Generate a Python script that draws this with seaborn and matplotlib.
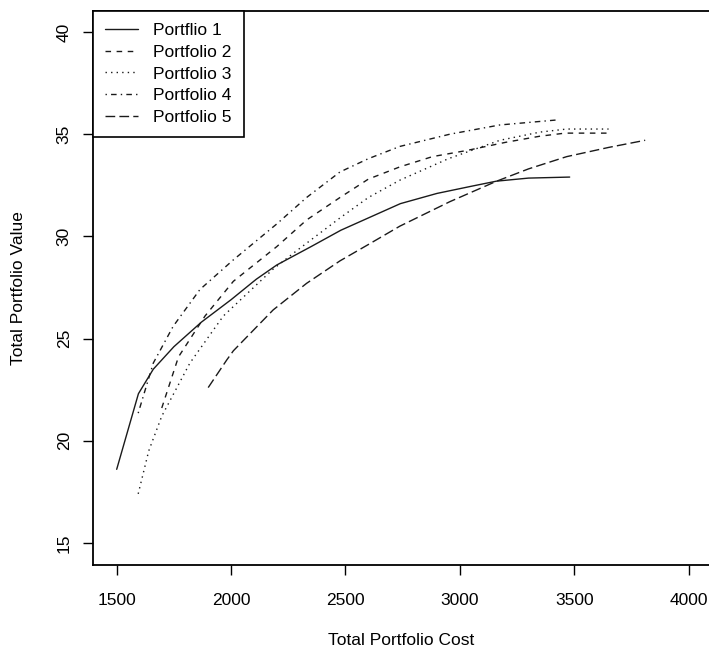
import numpy as np
import pandas as pd
import matplotlib
matplotlib.use("Agg")
import matplotlib.pyplot as plt
import seaborn as sns

# valores (custo total, valor total)
p1_cost = [1500, 1595, 1660, 1750, 1870, 2000, 2110, 2200, 2350, 2480, 2600, 2740, 2900, 3050, 3160, 3300, 3480]
p1_value = [18.6, 22.3, 23.5, 24.6, 25.8, 26.9, 27.9, 28.6, 29.5, 30.3, 30.9, 31.6, 32.1, 32.45, 32.7, 32.85, 32.9]

p2_cost = [1697, 1770, 1886, 2010, 2200, 2330, 2476, 2600, 2738, 2880, 3030, 3200, 3350, 3460, 3650]
p2_value = [21.6, 24.1, 26.1, 27.8, 29.5, 30.8, 31.9, 32.8, 33.4, 33.9, 34.2, 34.6, 34.9, 35.05, 35.05]

p3_cost = [1594, 1640, 1697, 1820, 1966, 2184, 2287, 2476, 2600, 2738, 2950, 3175, 3350, 3467, 3650]
p3_value = [17.4, 19.5, 21.2, 23.8, 26.1, 28.4, 29.3, 30.9, 31.9, 32.75, 33.8, 34.7, 35.1, 35.25, 35.25]

p4_cost = [1594, 1660, 1747, 1864, 2010, 2199, 2330, 2476, 2600, 2738, 2957, 3175, 3430]
p4_value = [21.35, 23.8, 25.6, 27.4, 28.85, 30.6, 31.9, 33.15, 33.8, 34.4, 35.0, 35.45, 35.7]

p5_cost = [1900, 1981, 2010, 2184, 2330, 2476, 2600, 2738, 2957, 3161, 3300, 3467, 3650, 3810]
p5_value = [22.6, 23.95, 24.4, 26.4, 27.7, 28.8, 29.6, 30.5, 31.7, 32.7, 33.3, 33.9, 34.35, 34.7]

labels = ["Portflio 1", "Portfolio 2", "Portfolio 3", "Portfolio 4", "Portfolio 5"]
x_ticks = [1500, 2000, 2500, 3000, 3500, 4000]
y_ticks = [15, 20, 25, 30, 35, 40]

frames = []
for lab, xs, ys in zip(labels,
                       [p1_cost, p2_cost, p3_cost, p4_cost, p5_cost],
                       [p1_value, p2_value, p3_value, p4_value, p5_value]):
    frames.append(pd.DataFrame({"cost": xs, "value": ys, "portfolio": lab}))
df = pd.concat(frames, ignore_index=True)

sns.set_theme(style="white", rc={"text.color": "black", "axes.labelcolor": "black",
                                 "xtick.color": "black", "ytick.color": "black"})
plt.rcParams['font.family'] = ['Liberation Sans', 'DejaVu Sans']
plt.rcParams['font.size'] = 12.5

fig = plt.figure(figsize=(7.09, 6.53), dpi=100)
ax = fig.add_axes([0.1307, 0.1348, 0.8693, 0.8488])

estilos = {
    "Portflio 1": "",
    "Portfolio 2": (4, 4),
    "Portfolio 3": (1, 3),
    "Portfolio 4": (1, 3, 4, 3),
    "Portfolio 5": (7, 3),
}
sns.lineplot(data=df, x="cost", y="value", style="portfolio", dashes=estilos,
             color="#1a1a1a", linewidth=1.0, estimator=None, sort=False, ax=ax)

ax.set_xlim(1395, 4089)
ax.set_ylim(13.92, 41.04)
ax.set_xticks(x_ticks)
ax.set_yticks(y_ticks)
ax.set_yticklabels([str(v) for v in y_ticks], rotation=90, va="center")
ax.tick_params(axis="x", direction="out", length=7, width=1, pad=13, labelsize=12.5, color="black")
ax.tick_params(axis="y", direction="out", length=7, width=1, pad=8, labelsize=12.5, color="black")
ax.tick_params(bottom=True, left=True)

for s in ["left", "bottom", "top"]:
    ax.spines[s].set_color("black")
    ax.spines[s].set_linewidth(1.3)
ax.spines["right"].set_visible(False)

ax.set_xlabel("Total Portfolio Cost", fontsize=12.5, labelpad=18)
ax.set_ylabel("Total Portfolio Value", fontsize=12.5, labelpad=22)

handles, labs = ax.get_legend_handles_labels()
leg = ax.legend(handles, labs, loc="upper left", borderaxespad=0, frameon=True,
                fancybox=False, edgecolor="black", framealpha=1,
                handlelength=1.9, handletextpad=0.9, labelspacing=0.38,
                borderpad=0.7, fontsize=12.5)
leg.get_frame().set_linewidth(1.2)

fig.savefig("out.png", dpi=100)
